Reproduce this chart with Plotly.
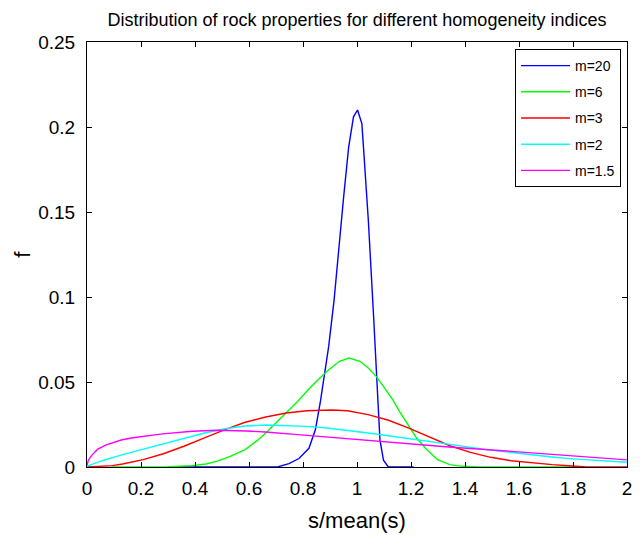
import plotly.graph_objects as go

# ---------------- data ----------------
x_m20 = [0.33, 0.5, 0.705, 0.748, 0.785, 0.822, 0.846, 0.865, 0.883, 0.895, 0.915,
         0.932, 0.95, 0.969, 0.987, 1.002, 1.018, 1.024, 1.042, 1.061, 1.073, 1.085,
         1.098, 1.116, 1.21]
f_m20 = [0.0, 0.0, 0.0, 0.002, 0.005, 0.011, 0.022, 0.039, 0.057, 0.0708, 0.098,
         0.1296, 0.158, 0.188, 0.206, 0.21, 0.202, 0.188, 0.145, 0.090, 0.051, 0.016,
         0.004, 0.0, 0.0]

x_m6 = [0.09, 0.3, 0.389, 0.44, 0.48, 0.53, 0.586, 0.63, 0.662, 0.7, 0.738, 0.78,
        0.814, 0.85, 0.889, 0.935, 0.97, 1.011, 1.04, 1.071, 1.1, 1.132, 1.16, 1.192,
        1.22, 1.253, 1.28, 1.298, 1.344, 1.39, 1.45, 1.81]
f_m6 = [0.0, 0.0002, 0.0008, 0.0018, 0.0033, 0.0062, 0.0102, 0.0155, 0.020, 0.026,
        0.0318, 0.0385, 0.0445, 0.0505, 0.0563, 0.0622, 0.0641, 0.0622, 0.0585, 0.0533,
        0.047, 0.0396, 0.032, 0.0239, 0.0172, 0.0112, 0.0068, 0.0043, 0.0014, 0.0004,
        0.0, 0.0]

x_m3 = [0.0, 0.05, 0.094, 0.132, 0.208, 0.283, 0.359, 0.435, 0.511, 0.586, 0.662,
        0.738, 0.814, 0.905, 0.965, 1.041, 1.117, 1.192, 1.268, 1.344, 1.42, 1.495,
        1.571, 1.647, 1.723, 1.798, 1.85, 2.0]
f_m3 = [0.0, 0.0002, 0.0008, 0.0018, 0.0043, 0.0078, 0.0122, 0.0171, 0.022, 0.0263,
        0.0294, 0.0318, 0.0331, 0.0335, 0.0331, 0.0308, 0.0275, 0.0229, 0.0176, 0.0125,
        0.0086, 0.0057, 0.0037, 0.0024, 0.0014, 0.0006, 0.0, 0.0]

x_m2 = [0.0, 0.056, 0.132, 0.208, 0.283, 0.359, 0.435, 0.511, 0.586, 0.662, 0.738,
        0.814, 0.889, 0.965, 1.041, 1.117, 1.192, 1.268, 1.344, 1.42, 1.495, 1.571,
        1.647, 1.723, 1.798, 1.9, 2.0]
f_m2 = [0.0005, 0.0037, 0.0073, 0.0106, 0.0137, 0.0171, 0.020, 0.0225, 0.0241, 0.0247,
        0.0245, 0.0239, 0.0229, 0.0216, 0.020, 0.0184, 0.0167, 0.0151, 0.0131, 0.0114,
        0.0099, 0.0085, 0.0071, 0.0059, 0.0048, 0.0037, 0.0028]

x_m15 = [0.0, 0.005, 0.018, 0.04, 0.071, 0.1, 0.13, 0.17, 0.21, 0.28, 0.39, 0.48,
         0.59, 0.66, 0.77, 0.89, 1.04, 1.19, 1.34, 1.5, 1.65, 1.8, 2.0]
f_m15 = [0.001, 0.004, 0.007, 0.0105, 0.013, 0.0145, 0.016, 0.0172, 0.018, 0.0195,
         0.021, 0.0216, 0.0212, 0.0206, 0.0192, 0.0176, 0.0155, 0.0135, 0.0118, 0.0100,
         0.0082, 0.0065, 0.0042]

series_names = ["m=20", "m=6", "m=3", "m=2", "m=1.5"]
series_x = [x_m20, x_m6, x_m3, x_m2, x_m15]
series_f = [f_m20, f_m6, f_m3, f_m2, f_m15]
series_colors = ["#0000ff", "#00ff00", "#ff0000", "#00ffff", "#ff00ff"]

x_tickvals = [0, 0.2, 0.4, 0.6, 0.8, 1.0, 1.2, 1.4, 1.6, 1.8, 2.0]
x_ticktext = ["0", "0.2", "0.4", "0.6", "0.8", "1", "1.2", "1.4", "1.6", "1.8", "2"]
y_tickvals = [0, 0.05, 0.1, 0.15, 0.2, 0.25]
y_ticktext = ["0", "0.05", "0.1", "0.15", "0.2", "0.25"]

title_text = "Distribution of rock properties for different homogeneity indices"
x_label = "s/mean(s)"
y_label = "f"

# ---------------- figure ----------------
# the page body has an 8px margin, so the figure is 8px smaller and margins shifted
FONT = "Liberation Sans, Arial, sans-serif"
W, H = 636, 527
ML, MR, MT, MB = 79, 14, 34, 68
PW, PH = W - ML - MR, H - MT - MB

fig = go.Figure()
for i, (name, xs, fs, col) in enumerate(zip(series_names, series_x, series_f, series_colors)):
    fig.add_trace(go.Scatter(x=xs, y=fs, mode="lines", name=name,
                             legendgroup=f"g{i}",
                             line=dict(color=col, width=1.4)))

axis_common = dict(showgrid=False, zeroline=False, showline=True, linecolor="black",
                   linewidth=1, mirror="ticks", ticks="inside", ticklen=5,
                   tickcolor="black", tickwidth=1,
                   tickfont=dict(family=FONT, size=19, color="black"))

fig.update_layout(
    width=W, height=H, autosize=False,
    margin=dict(l=ML, r=MR, t=MT, b=MB),
    paper_bgcolor="white", plot_bgcolor="white",
    font=dict(family=FONT, color="black"),
    title=dict(text=title_text, x=0.5, xref="paper", y=1 - 12 / H, yref="container",
               xanchor="center", yanchor="middle",
               font=dict(family=FONT, size=18, color="black")),
    xaxis=dict(range=[0, 2], tickvals=x_tickvals, ticktext=x_ticktext,
               ticklabelstandoff=4, **axis_common),
    yaxis=dict(range=[0, 0.25], tickvals=y_tickvals, ticktext=y_ticktext,
               ticklabelstandoff=7, **axis_common),
    legend=dict(x=(513 - 87) / PW + (624 - 513) / PW, y=1 - 7 / PH,
                xanchor="right", yanchor="top",
                bordercolor="black", borderwidth=1, bgcolor="white",
                font=dict(family=FONT, size=14, color="black"),
                tracegroupgap=5, itemwidth=49),
    showlegend=True,
)

fig.add_annotation(text=x_label, x=0.5, xref="paper", y=-(520 - 467) / PH, yref="paper",
                   showarrow=False, xanchor="center", yanchor="middle",
                   font=dict(family=FONT, size=22, color="black"))
fig.add_annotation(text=y_label, x=-(87 - 22) / PW, xref="paper", y=0.5, yref="paper",
                   showarrow=False, xanchor="center", yanchor="middle", textangle=-90,
                   font=dict(family=FONT, size=22, color="black"))

fig.write_html("out.html")
